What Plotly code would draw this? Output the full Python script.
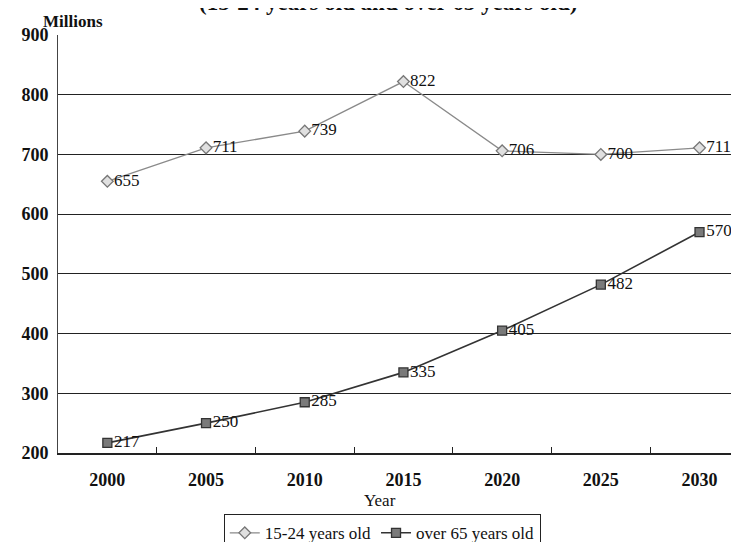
import plotly.graph_objects as go

years = ["2000", "2005", "2010", "2015", "2020", "2025", "2030"]
youth = [655, 711, 739, 822, 706, 700, 711]
elderly = [217, 250, 285, 335, 405, 482, 570]
youth_name = "15-24 years old"
elderly_name = "over 65 years old"
y_ticks = [200, 300, 400, 500, 600, 700, 800, 900]
title_text = "(15-24 years old and over 65 years old)"

FONT = "Liberation Serif"

fig = go.Figure()
fig.add_trace(go.Scatter(
    x=years, y=youth, name=youth_name, mode="lines+markers+text",
    line=dict(color="#8a8a8a", width=1.3),
    marker=dict(symbol="diamond", size=9, color="#e0e0e0", line=dict(color="#777777", width=1.3)),
    text=[str(v) for v in youth],
    textposition="middle right",
    textfont=dict(family=FONT, size=17, color="#111111"),
))
fig.add_trace(go.Scatter(
    x=years, y=elderly, name=elderly_name, mode="lines+markers+text",
    line=dict(color="#333333", width=1.6),
    marker=dict(symbol="square", size=9, color="#7a7a7a", line=dict(color="#333333", width=1.3)),
    text=[str(v) for v in elderly],
    textposition="middle right",
    textfont=dict(family=FONT, size=17, color="#111111"),
))

fig.update_layout(
    width=731, height=534,
    margin=dict(l=50, r=0, t=27, b=89),
    paper_bgcolor="white", plot_bgcolor="white",
    font=dict(family=FONT, size=16, color="#111111"),
    showlegend=True,
    legend=dict(orientation="h", xref="container", yref="container",
                x=0.512, xanchor="center", y=0.052, yanchor="top",
                bordercolor="#222222", borderwidth=1, font=dict(family=FONT, size=17),
                itemwidth=30, tracegroupgap=0),
    xaxis=dict(type="category", range=[-0.5, 6.40], showgrid=False, automargin=False,
               showline=True, linecolor="#222222", linewidth=1.5,
               ticks="inside", tickson="boundaries", ticklen=6, tickcolor="#222222",
               tickfont=dict(family=FONT, size=18, weight="bold"), ticklabelstandoff=10),
    yaxis=dict(range=[200, 900], tickvals=y_ticks, showgrid=True, gridcolor="#222222", gridwidth=1,
               showline=True, linecolor="#444444", linewidth=1, zeroline=False, automargin=False,
               tickfont=dict(family=FONT, size=18, weight="bold"), ticks="", ticklabelstandoff=5),
    annotations=[
        dict(text="Millions", x=(65 - 50) / 681, xref="paper", xanchor="center", y=1.0, yref="paper",
             yanchor="bottom", yshift=2, showarrow=False,
             font=dict(family=FONT, size=17, weight="bold")),
        dict(text=title_text, x=0.485, xref="paper", xanchor="center",
             y=1.0, yref="paper", yanchor="bottom", yshift=18, showarrow=False,
             font=dict(family=FONT, size=23, weight="bold")),
        dict(text="Year", x=(372 - 50) / 681, xref="paper", xanchor="center",
             y=0.0, yref="paper", yanchor="middle", yshift=-47, showarrow=False,
             font=dict(family=FONT, size=17)),
    ],
)

fig.write_html("out.html")
